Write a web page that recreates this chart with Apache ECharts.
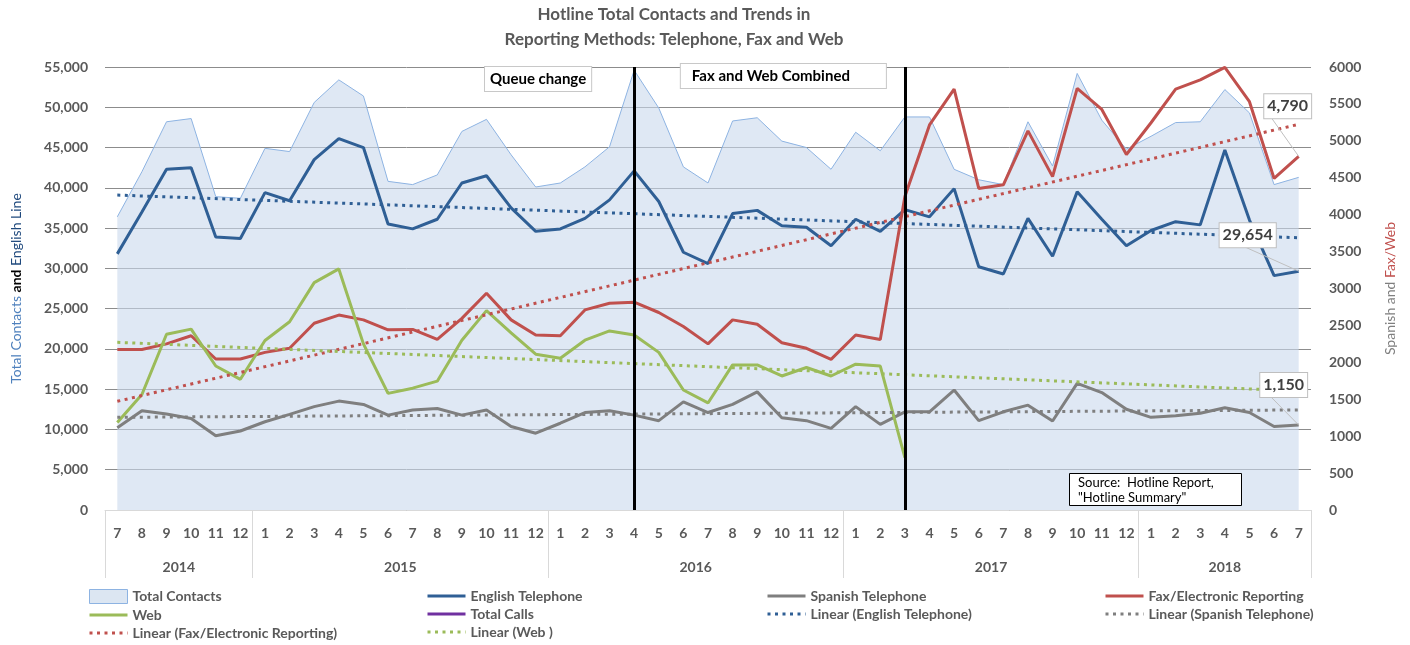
<!DOCTYPE html>
<html>
<head>
<meta charset="utf-8">
<script src="https://cdn.jsdelivr.net/npm/echarts@6/dist/echarts.min.js"></script>
<style>
html, body { margin: 0; padding: 0; background: #fff; }
#chart { width: 1410px; height: 645px; }
</style>
</head>
<body>
<div id="chart"></div>
<script>
// month tick labels, Jul 2014 .. Jul 2018
var months = ['7','8','9','10','11','12',
  '1','2','3','4','5','6','7','8','9','10','11','12',
  '1','2','3','4','5','6','7','8','9','10','11','12',
  '1','2','3','4','5','6','7','8','9','10','11','12',
  '1','2','3','4','5','6','7'];
var yearNames = ['2014', '2015', '2016', '2017', '2018'];
var yearMonthCounts = [6, 12, 12, 12, 7];

var totalContacts = [36400, 42000, 48200, 48600, 38900, 38700,
  44900, 44500, 50600, 53400, 51400, 40800, 40400, 41600, 47000, 48500, 44100, 40100,
  40600, 42600, 45100, 54600, 49900, 42600, 40600, 48300, 48700, 45800, 45000, 42300,
  46900, 44600, 48800, 48800, 42300, 41000, 40400, 48200, 42700, 54200, 48400, 44800,
  46400, 48100, 48200, 52200, 49300, 40400, 41300];
var englishPhone = [31800, 37000, 42300, 42500, 33900, 33700,
  39400, 38400, 43500, 46100, 45000, 35500, 34900, 36100, 40600, 41500, 37500, 34600,
  34900, 36200, 38500, 42100, 38300, 32000, 30600, 36800, 37200, 35300, 35100, 32800,
  36100, 34600, 37300, 36400, 39900, 30200, 29300, 36200, 31500, 39500, 36100, 32800,
  34700, 35800, 35400, 44700, 36000, 29100, 29654];
var spanishPhone = [1115, 1345, 1300, 1240, 1005, 1070,
  1195, 1295, 1400, 1475, 1430, 1285, 1355, 1375, 1285, 1355, 1130, 1040,
  1175, 1320, 1345, 1285, 1210, 1465, 1320, 1430, 1600, 1250, 1210, 1105,
  1400, 1160, 1330, 1330, 1625, 1210, 1330, 1420, 1205, 1715, 1590, 1365,
  1255, 1275, 1310, 1385, 1320, 1130, 1150];
var faxElectronic = [2175, 2175, 2250, 2360, 2045, 2045,
  2135, 2190, 2530, 2640, 2575, 2440, 2445, 2310, 2595, 2935, 2575, 2370,
  2360, 2710, 2800, 2815, 2675, 2485, 2250, 2575, 2515, 2265, 2190, 2040,
  2370, 2310, 4245, 5215, 5700, 4355, 4405, 5135, 4515, 5710, 5425, 4815,
  5245, 5700, 5825, 5995, 5530, 4490, 4790];
var web = [1185, 1565, 2380, 2450, 1950, 1770,
  2295, 2550, 3080, 3265, 2250, 1580, 1650, 1745, 2300, 2700, 2400, 2110,
  2055, 2300, 2425, 2370, 2135, 1625, 1450, 1965, 1965, 1815, 1930, 1815,
  1975, 1950, 710];
var totalCalls = [];

// trend line end values (first and last month)
var englishTrend = [39100, 33800];
var spanishTrend = [1255, 1355];
var faxTrend = [1472, 5224];
var webTrend = [2271, 1612];

var queueChangeIndex = 21;   // Apr 2016
var faxWebIndex = 32;        // Mar 2017

var FONT = 'Lato, "DejaVu Sans", sans-serif';
var GREY = '#595959';

var chart = echarts.init(document.getElementById('chart'));

// half-month slots so the year names sit centred under their months
var yearSlots = [];
for (var k = 0; k <= months.length * 2; k++) yearSlots.push('');
var start = 0;
yearNames.forEach(function (y, i) {
  yearSlots[2 * start + yearMonthCounts[i]] = y;
  start += yearMonthCounts[i];
});
var yearStarts = [];
start = 0;
yearMonthCounts.forEach(function (c) { yearStarts.push(start); start += c; });

function trendData(ends) {
  return months.map(function (m, i) {
    if (i === 0) return ends[0];
    if (i === months.length - 1) return ends[1];
    return null;
  });
}

var endLabel = {
  show: true,
  position: 'top',
  distance: 5,
  fontFamily: FONT,
  fontSize: 16,
  fontWeight: 'bold',
  color: '#404040',
  backgroundColor: '#fff',
  borderColor: '#bfbfbf',
  borderWidth: 1,
  padding: [4, 3],
  formatter: function (p) { return echarts.format.addCommas(p.value); }
};
function lastLabeled(arr) {
  return arr.map(function (v, i) {
    return i === arr.length - 1 ? { value: v, label: endLabel } : v;
  });
}

var calloutLine = { show: true, lineStyle: { color: '#bfbfbf', width: 1 } };

function solid(name, data, color, axis) {
  return {
    name: name, type: 'line', data: data, yAxisIndex: axis,
    symbol: 'circle', symbolSize: 0, showSymbol: true,
    lineStyle: { color: color, width: 3 }, itemStyle: { color: color }
  };
}

function dotted(name, ends, color, axis) {
  return {
    name: name, type: 'line', yAxisIndex: axis, data: trendData(ends),
    connectNulls: true, symbol: 'none', silent: true,
    lineStyle: { color: color, width: 3, type: [3, 4.5] },
    itemStyle: { color: color }
  };
}

var legendCols = [
  ['Total Contacts', 'Web', 'Linear (Fax/Electronic Reporting)'],
  ['English Telephone', 'Total Calls', 'Linear (Web )'],
  ['Spanish Telephone', 'Linear (English Telephone)'],
  ['Fax/Electronic Reporting', 'Linear (Spanish Telephone)']
];
var legendLefts = [83, 421, 761, 1099];

var boxLabel = {
  show: true, position: 'left',
  fontFamily: FONT, fontSize: 15, fontWeight: 'bold', color: '#000',
  backgroundColor: '#fff', borderColor: '#c8c8c8', borderWidth: 1
};

var english = solid('English Telephone', lastLabeled(englishPhone), '#2f5f95', 0);
english.labelLayout = { dx: -51, dy: -19 };
english.labelLine = calloutLine;
english.markLine = {
  silent: true, symbol: ['none', 'none'], label: { show: false },
  lineStyle: { color: '#000', width: 3, type: 'solid' },
  data: [{ xAxis: queueChangeIndex }, { xAxis: faxWebIndex }]
};
english.markPoint = {
  silent: true, symbol: 'rect', symbolSize: 0,
  label: boxLabel,
  data: [
    { coord: [queueChangeIndex, 55000], value: 0,
      label: { formatter: 'Queue change', distance: 43, offset: [0, 12], padding: [5, 5, 4, 5] } },
    { coord: [faxWebIndex, 55000], value: 0,
      label: { formatter: 'Fax and Web Combined', distance: 19, offset: [0, 9], padding: [5, 36, 4, 11] } }
  ]
};

var spanish = solid('Spanish Telephone', lastLabeled(spanishPhone), '#7f7f7f', 1);
spanish.labelLayout = { dx: -15, dy: -23 };
spanish.labelLine = calloutLine;

var fax = solid('Fax/Electronic Reporting', lastLabeled(faxElectronic), '#c0504d', 1);
fax.labelLayout = { dx: -11, dy: -33 };
fax.labelLine = calloutLine;

chart.setOption({
  animation: false,
  textStyle: { fontFamily: FONT },
  title: {
    text: 'Hotline Total Contacts and Trends in\nReporting Methods: Telephone, Fax and Web',
    left: 669, top: -3, textAlign: 'center',
    textStyle: { fontFamily: FONT, fontSize: 17, fontWeight: 'bold', color: GREY, lineHeight: 25 }
  },
  grid: { left: 105, right: 99, top: 67, bottom: 135, containLabel: false },
  legend: legendCols.map(function (names, c) {
    return {
      orient: 'vertical', left: legendLefts[c], top: 584,
      itemWidth: 38, itemHeight: 14, itemGap: 4,
      selectedMode: false,
      itemStyle: { opacity: 0 },
      lineStyle: { width: 3, opacity: 1 },
      textStyle: { fontFamily: FONT, fontSize: 14, fontWeight: 'bold', color: GREY },
      data: names.map(function (n) {
        if (n === 'Total Contacts') {
          return { name: n, icon: 'rect',
            itemStyle: { color: '#dce6f2', borderColor: '#8db3e2', borderWidth: 1, opacity: 1 } };
        }
        return { name: n };
      })
    };
  }),
  xAxis: [{
    type: 'category', data: months, boundaryGap: true, position: 'bottom',
    axisLine: { lineStyle: { color: '#d9d9d9' } },
    axisTick: {
      show: true, length: 68, lineStyle: { color: '#d9d9d9' },
      interval: function (i) { return yearStarts.indexOf(i) >= 0; }
    },
    axisLabel: { interval: 0, margin: 16, fontFamily: FONT, fontSize: 14, fontWeight: 'bold', color: GREY },
    splitLine: { show: false }
  }, {
    type: 'category', data: yearSlots, boundaryGap: false, position: 'bottom',
    axisLine: { show: false }, axisTick: { show: false },
    axisLabel: { interval: 0, margin: 50, fontFamily: FONT, fontSize: 14, fontWeight: 'bold', color: GREY },
    splitLine: { show: false }
  }],
  yAxis: [{
    type: 'value', position: 'left', min: 0, max: 55000, interval: 5000,
    axisLine: { show: false }, axisTick: { show: false },
    axisLabel: { margin: 17, fontFamily: FONT, fontSize: 14, fontWeight: 'bold', color: GREY },
    splitLine: { lineStyle: { color: '#8c8c8c', width: 1 } },
    name: '{a|Total Contacts }{b|and }{c|English Line}',
    nameLocation: 'middle', nameGap: 82,
    nameTextStyle: {
      rich: {
        a: { fontFamily: FONT, fontSize: 14, color: '#4f81bd' },
        b: { fontFamily: FONT, fontSize: 14, fontWeight: 'bold', color: '#000' },
        c: { fontFamily: FONT, fontSize: 14, color: '#1f497d' }
      }
    }
  }, {
    type: 'value', position: 'right', min: 0, max: 6000, interval: 500,
    axisLine: { show: false }, axisTick: { show: false },
    axisLabel: {
      margin: 18, fontFamily: FONT, fontSize: 14, fontWeight: 'bold', color: GREY,
      formatter: function (v) { return String(v); }
    },
    splitLine: { show: false },
    name: '{a|Spanish and }{b|Fax/Web}',
    nameLocation: 'middle', nameGap: 72,
    nameTextStyle: {
      rich: {
        a: { fontFamily: FONT, fontSize: 14, color: '#7f7f7f' },
        b: { fontFamily: FONT, fontSize: 14, color: '#c0504d' }
      }
    }
  }],
  graphic: {
    z: 100,
    elements: [{
      type: 'group', left: 1069, top: 473, silent: true,
      children: [{
        type: 'rect', z: 100, shape: { x: 0.5, y: 0.5, width: 172, height: 32 },
        style: { fill: '#fff', stroke: '#000', lineWidth: 1 }
      }, {
        type: 'text', z: 101, x: 9, y: 2,
        style: { text: 'Source:  Hotline Report,\n"Hotline Summary"', font: '13px ' + FONT, fill: '#000', lineHeight: 15 }
      }]
    }]
  },
  series: [{
    name: 'Total Contacts', type: 'line', data: totalContacts, yAxisIndex: 0,
    symbol: 'none', silent: true,
    lineStyle: { color: '#8db3e2', width: 1 },
    itemStyle: { color: '#8db3e2' },
    areaStyle: { color: '#c9d8ec', opacity: 0.6 }
  },
    english,
    spanish,
    fax,
    solid('Web', web, '#9bbb59', 1),
    solid('Total Calls', totalCalls, '#7030a0', 0),
    dotted('Linear (English Telephone)', englishTrend, '#2f5f95', 0),
    dotted('Linear (Spanish Telephone)', spanishTrend, '#7f7f7f', 1),
    dotted('Linear (Fax/Electronic Reporting)', faxTrend, '#c0504d', 1),
    dotted('Linear (Web )', webTrend, '#9bbb59', 1)
  ]
});
</script>
</body>
</html>
